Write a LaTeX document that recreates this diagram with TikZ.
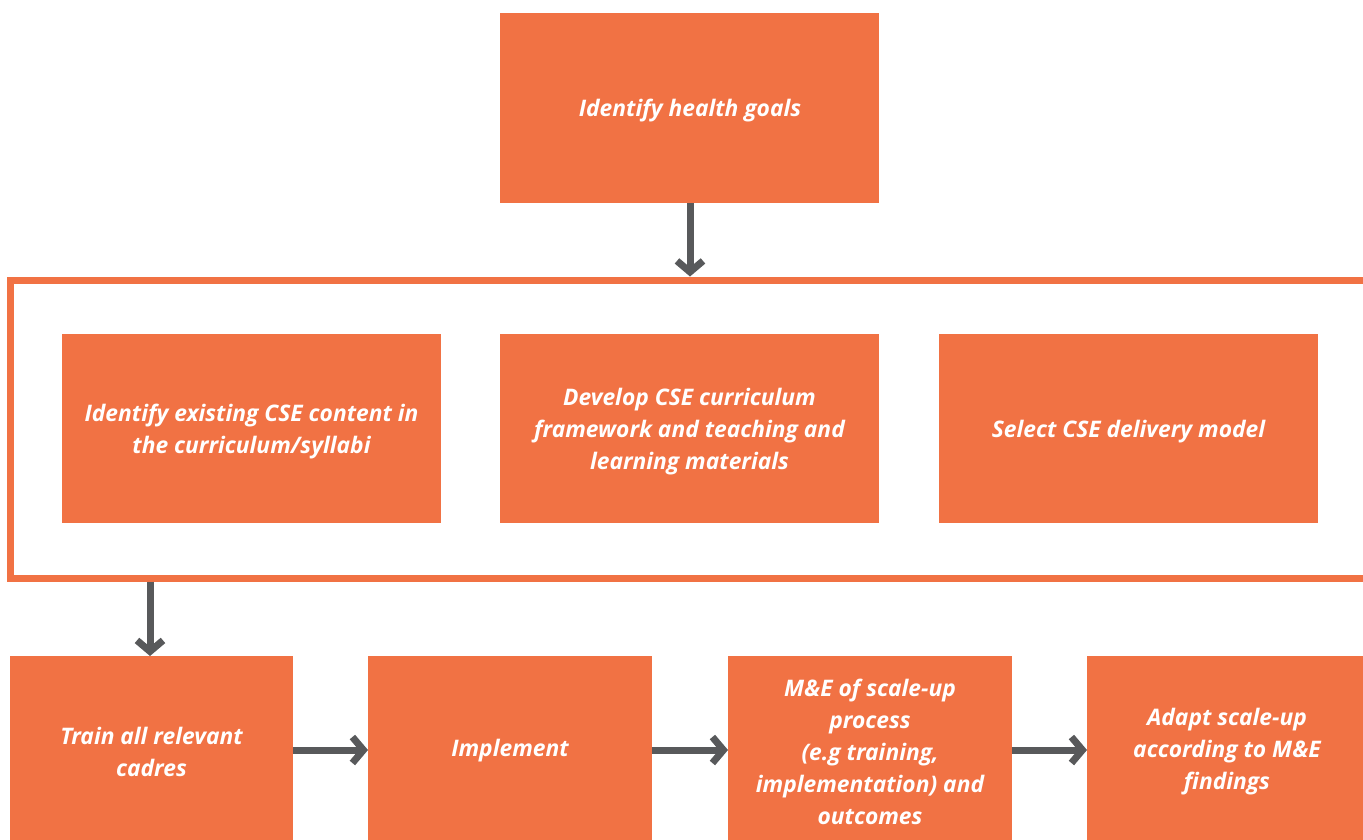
\documentclass[tikz,border=0pt]{standalone}
\usepackage{fontspec}
\setmainfont{Open Sans}
\usetikzlibrary{arrows.meta}
\definecolor{boxor}{HTML}{F17244}
\definecolor{arrgray}{HTML}{58595B}
\tikzset{
  stepbox/.style={fill=boxor, draw=none, inner sep=0pt, outer sep=0pt, anchor=north west},
  lbl/.style={text=white, align=center, font=\fontsize{22.8}{32}\selectfont\bfseries\itshape},
  flow/.style={draw=arrgray, line width=7pt, -{Straight Barb[length=11pt,width=26pt,line width=7pt]}},
}
\begin{document}
\begin{tikzpicture}[x=1pt,y=-1pt]
\useasboundingbox (0,0) rectangle (1363,839);
% top
\node[stepbox, minimum width=379pt, minimum height=190pt] (goals) at (500,13) {};
\node[lbl] (goalsT) at (690,111) {Identify health goals};
% frame
\node[draw=boxor, line width=7pt, minimum width=1400pt, minimum height=298pt, inner sep=0pt, outer sep=0pt, anchor=north west] (frame) at (10.5,280) {};
\node[stepbox, minimum width=379pt, minimum height=189pt] (exist) at (62,334) {};
\node[lbl] (existT) at (251.5,432) {Identify existing CSE content in\\the curriculum/syllabi};
\node[stepbox, minimum width=379pt, minimum height=189pt] (dev) at (500,334) {};
\node[lbl] (devT) at (689.5,432) {Develop CSE curriculum\\framework and teaching and\\learning materials};
\node[stepbox, minimum width=379pt, minimum height=189pt] (sel) at (939,334) {};
\node[lbl] (selT) at (1128.5,432) {Select CSE delivery model};
% bottom row
\node[stepbox, minimum width=283pt, minimum height=190pt] (train) at (10,656) {};
\node[lbl] (trainT) at (151.5,752) {Train all relevant\\cadres};
\node[stepbox, minimum width=284pt, minimum height=190pt] (impl) at (368,656) {};
\node[lbl] (implT) at (510,751) {Implement};
\node[stepbox, minimum width=284pt, minimum height=190pt] (me) at (728,656) {};
\node[lbl] (meT) at (870,752) {M\&E of scale-up\\process\\(e.g training,\\implementation) and\\outcomes};
\node[stepbox, minimum width=290pt, minimum height=190pt] (adapt) at (1087,656) {};
\node[lbl] (adaptT) at (1227,752) {Adapt scale-up\\according to M\&E\\findings};
% arrows
\draw[flow] (goals.south -| 690,0) -- (690,276.5) coordinate (fin);
\draw[flow] (150,581.5) coordinate (fout) -- (150,656);
\draw[flow] (train.east |- 0,750) -- (impl.west |- 0,750);
\draw[flow] (impl.east |- 0,750) -- (me.west |- 0,750);
\draw[flow] (me.east |- 0,750) -- (adapt.west |- 0,750);
\end{tikzpicture}
\end{document}
